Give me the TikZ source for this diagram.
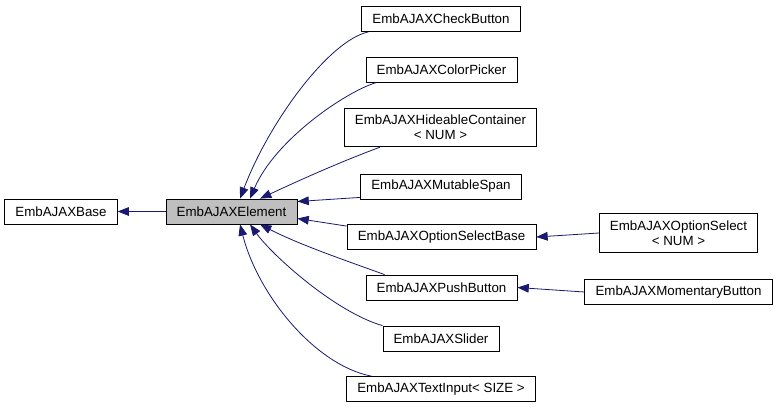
\documentclass[tikz,border=0pt]{standalone}
\usepackage{fontspec}
\setmainfont{Liberation Sans}
\usepackage{xcolor}
\usepackage{tikz}
\usetikzlibrary{arrows.meta}
\definecolor{edgeblue}{HTML}{191970}
\definecolor{focusgray}{HTML}{BFBFBF}

\tikzset{
  classbox/.style={draw=black, line width=0.6pt, fill=white, inner xsep=8pt, inner ysep=2pt,
                   minimum height=18.75pt, align=center, font=\fontsize{10pt}{11pt}\selectfont},
  twoline/.style={classbox, minimum height=29pt},
  inherit/.style={draw=edgeblue, line width=0.6pt, -{Triangle[length=8.5pt, width=6.5pt]}}
}

\begin{document}
\begin{tikzpicture}[x=0.75pt, y=-0.75pt]
    \path[fill=white, use as bounding box] (0,0) rectangle (777,408);

    \node[classbox] (base) at (61,211.5) {EmbAJAXBase};
    \node[classbox, fill=focusgray] (elem) at (231.5,211.5) {EmbAJAXElement};

    \node[classbox] (chk) at (441,19) {EmbAJAXCheckButton};
    \node[classbox] (col) at (441.5,69.5) {EmbAJAXColorPicker};
    \node[twoline] (hid) at (440.5,127.5) {EmbAJAXHideableContainer\\ < NUM >};
    \node[classbox] (mut) at (441,186.5) {EmbAJAXMutableSpan};
    \node[classbox] (osb) at (441.5,237) {EmbAJAXOptionSelectBase};
    \node[classbox] (push) at (441.5,287.5) {EmbAJAXPushButton};
    \node[classbox] (sld) at (441,338.5) {EmbAJAXSlider};
    \node[classbox] (txt) at (441,389) {EmbAJAXTextInput< SIZE >};

    \node[twoline] (osel) at (678.5,233) {EmbAJAXOptionSelect\\ < NUM >};
    \node[classbox] (mom) at (678.5,292) {EmbAJAXMomentaryButton};

    \draw[inherit] (elem.west) -- (base.east);

    \draw[inherit] ([xshift=5.25pt]chk.south west) .. controls (330,40) and (270,120) .. ([xshift=6.4pt]elem.north);
    \draw[inherit] ([xshift=8.25pt]col.south west) .. controls (345,92) and (275,140) .. ([xshift=13.9pt]elem.north);
    \draw[inherit] ([xshift=27pt]hid.south west) .. controls (340,162) and (300,180) .. ([xshift=21.4pt]elem.north);
    \draw[inherit] ([yshift=1.5pt]mut.south west) -- ([yshift=7.5pt]elem.east);
    \draw[inherit] ([yshift=-1.5pt]osb.north west) -- ([yshift=-5.25pt]elem.east);
    \draw[inherit] ([xshift=14.25pt]push.north west) .. controls (350,262) and (300,245) .. ([xshift=21.4pt]elem.south);
    \draw[inherit] (sld.north west) .. controls (335,312) and (272,255) .. ([xshift=13.9pt]elem.south);
    \draw[inherit] ([xshift=18.75pt]txt.north west) .. controls (315,365) and (258,295) .. ([xshift=6.4pt]elem.south);

    \draw[inherit] (osel.west) -- (osb.east);
    \draw[inherit] (mom.west) -- (push.east);
\end{tikzpicture}
\end{document}
